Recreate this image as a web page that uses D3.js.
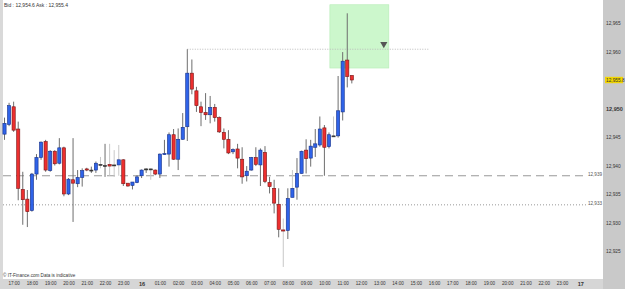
<!DOCTYPE html>
<html><head><meta charset="utf-8">
<script src="https://cdn.jsdelivr.net/npm/d3@7"></script>
<style>
html,body{margin:0;padding:0;background:#fff;}
svg{display:block;font-family:"Liberation Sans",Arial,sans-serif;}
</style></head>
<body><svg id="c" width="625" height="289"></svg>
<script>
// 15-minute candles, index 0 = 16:30
const opens  = [12945.5,12947.2,12950.3,12946.4,12935.8,12934.1,12932.1,12938.5,12941.4,12944.2,12939.1,12942.5,12940.4,12943.1,12935.0,12937.5,12936.8,12937.9,12939.4,12939.2,12939.2,12940.2,12940.0,12940.2,12940.1,12940.1,12941.0,12936.9,12936.5,12937.0,12938.2,12939.4,12939.4,12939.2,12938.5,12941.9,12942.0,12945.4,12941.1,12944.6,12946.8,12956.2,12953.1,12950.3,12949.3,12948.9,12950.2,12948.4,12945.8,12944.6,12942.4,12942.9,12941.1,12938.2,12939.2,12941.4,12940.1,12942.3,12937.0,12936.0,12933.2,12928.7,12928.6,12934.4,12936.2,12938.6,12942.7,12941.3,12943.2,12943.6,12946.6,12943.3,12945.2,12945.2,12949.4,12958.5,12955.8];
const highs  = [12948.4,12951.0,12951.2,12947.7,12938.9,12935.7,12938.7,12942.0,12944.2,12944.5,12942.7,12942.7,12944.8,12943.3,12937.8,12944.8,12939.2,12939.5,12939.6,12939.8,12940.7,12941.5,12943.8,12943.8,12942.7,12943.6,12941.1,12936.9,12937.1,12938.3,12939.3,12939.5,12939.5,12939.3,12942.1,12944.5,12945.8,12946.4,12946.5,12949.2,12960.4,12958.6,12953.8,12951.2,12952.7,12952.2,12950.8,12948.6,12946.5,12946.2,12943.0,12943.8,12943.2,12939.9,12941.5,12943.2,12943.0,12943.4,12938.0,12937.5,12936.0,12930.7,12936.0,12939.2,12941.3,12942.6,12944.6,12944.5,12946.4,12948.6,12947.1,12945.8,12948.6,12955.7,12959.9,12966.7,12955.8];
const lows   = [12944.5,12946.9,12945.9,12933.9,12929.6,12929.2,12931.9,12937.5,12941.0,12938.9,12938.9,12940.0,12940.2,12934.6,12934.8,12930.1,12936.2,12936.3,12939.0,12938.7,12938.7,12939.5,12938.0,12938.2,12938.0,12938.2,12936.4,12936.3,12935.8,12936.9,12937.8,12938.7,12937.5,12938.3,12937.8,12941.9,12939.8,12941.0,12939.2,12944.5,12944.3,12952.5,12949.4,12946.9,12948.0,12947.4,12947.7,12945.7,12943.0,12942.0,12942.0,12939.5,12936.8,12937.2,12939.1,12939.9,12936.4,12936.9,12935.1,12931.6,12927.4,12922.2,12927.1,12934.4,12934.0,12938.6,12938.6,12939.8,12941.5,12943.3,12938.2,12943.0,12945.0,12944.9,12947.9,12953.7,12954.4];
const closes = [12947.4,12950.5,12946.2,12936.0,12934.0,12931.9,12938.5,12941.4,12944.1,12939.2,12942.5,12940.3,12943.1,12935.0,12937.6,12936.9,12937.9,12939.1,12939.2,12939.2,12940.4,12940.2,12940.0,12939.9,12940.1,12941.0,12936.8,12936.4,12937.1,12938.0,12939.2,12939.4,12939.4,12938.5,12942.0,12942.1,12945.4,12941.1,12944.6,12946.7,12956.2,12953.4,12950.5,12949.3,12948.9,12950.2,12948.4,12945.9,12944.6,12942.2,12942.8,12941.3,12938.0,12939.0,12941.4,12940.2,12942.7,12937.2,12936.3,12933.4,12928.8,12928.5,12934.2,12936.0,12938.6,12942.5,12941.2,12943.4,12943.8,12946.4,12943.2,12945.4,12945.2,12949.6,12958.3,12955.6,12955.0];
const lightWicks = [21,23,24,25,32,61,63,72];
const hourLabels = ["17:00","18:00","19:00","20:00","21:00","22:00","23:00","16","01:00","02:00","03:00","04:00","05:00","06:00","07:00","08:00","09:00","10:00","11:00","12:00","13:00","14:00","15:00","16:00","17:00","18:00","19:00","20:00","21:00","22:00","23:00","17"];
const priceTicks = [12925,12930,12935,12940,12945,12950,12955,12960,12965];
const levelValues = [12938.2,12933.1];
const levelLabels = ["12,939","12,933"];
const highLine = {from:40,to:93,value:12960.4};
const zone = {from:71.2,to:84.1,top:12968.2,bottom:12957.1};
const marker = {idx:83,value:12961.3};
const bidAsk = "Bid : 12,954.6 Ask : 12,955.4";
const lastLabel = "12,955.8";

const svg = d3.select("#c");
const W=625,H=289, plotL=3, plotR=603, plotB=279;
const x = d3.scaleLinear().domain([0,130]).range([4.5, 4.5+4.57*130]);
const y = d3.scaleLinear().domain([12925,12965]).range([251,23]);

// backgrounds
svg.append("rect").attr("x",0).attr("y",0).attr("width",W).attr("height",H).attr("fill","#fff");
svg.append("rect").attr("x",0).attr("y",0).attr("width",plotL).attr("height",plotB).attr("fill","#d9d9d9");
svg.append("rect").attr("x",plotR).attr("y",0).attr("width",W-plotR).attr("height",H).attr("fill","#c9c9c9");
svg.append("rect").attr("x",0).attr("y",plotB).attr("width",plotR).attr("height",H-plotB).attr("fill","#d6d6d6");

// green zone
svg.append("rect").attr("x",x(zone.from)).attr("y",y(zone.top))
  .attr("width",x(zone.to)-x(zone.from)).attr("height",y(zone.bottom)-y(zone.top))
  .attr("fill","#ccf7cc").attr("stroke","#b5ecb5").attr("stroke-width",0.6);

// levels
svg.append("line").attr("x1",plotL).attr("x2",plotR-16).attr("y1",y(levelValues[0])).attr("y2",y(levelValues[0]))
  .attr("stroke","#999").attr("stroke-width",1).attr("stroke-dasharray","8,5");
svg.append("line").attr("x1",plotL).attr("x2",plotR-16).attr("y1",y(levelValues[1])).attr("y2",y(levelValues[1]))
  .attr("stroke","#999").attr("stroke-width",1).attr("stroke-dasharray","1,2");
levelLabels.forEach((t,k)=>{
  svg.append("text").attr("x",plotR-1).attr("y",y(levelValues[k])).attr("dy","0.1em")
    .attr("text-anchor","end").attr("font-size",4.6).attr("fill","#555").text(t);
});
// high dotted line
svg.append("line").attr("x1",x(highLine.from)).attr("x2",x(highLine.to))
  .attr("y1",y(highLine.value)).attr("y2",y(highLine.value))
  .attr("stroke","#bbb").attr("stroke-width",1).attr("stroke-dasharray","1,1.5");

// candles
const data = opens.map((o,i)=>({i,o,h:highs[i],l:lows[i],c:closes[i]}));
const g = svg.append("g");
g.selectAll("line.w").data(data).join("line").attr("class","w")
  .attr("x1",d=>x(d.i)).attr("x2",d=>x(d.i))
  .attr("y1",d=>y(d.h)).attr("y2",d=>y(d.l))
  .attr("stroke",d=>lightWicks.includes(d.i)?"#c8c8c8":"#6e6e6e").attr("stroke-width",1);
g.selectAll("rect.b").data(data).join("rect").attr("class","b")
  .attr("x",d=>x(d.i)-1.6).attr("width",3.2)
  .attr("y",d=>y(Math.max(d.o,d.c)))
  .attr("height",d=>Math.max(1,Math.abs(y(d.o)-y(d.c))))
  .attr("fill",d=>d.c>d.o?"#2f63e8":(d.c<d.o?"#ec2f2f":"#333"))
  .attr("stroke",d=>d.c>d.o?"#16318a":(d.c<d.o?"#7a1616":"#333"))
  .attr("stroke-width",0.6);

// marker triangle
svg.append("path").attr("d",d3.symbol(d3.symbolTriangle,22)())
  .attr("transform",`translate(${x(marker.idx)},${y(marker.value)}) rotate(180)`)
  .attr("fill","#555");

// y axis
const ya = svg.append("g").attr("transform",`translate(${plotR+2},0)`)
  .call(d3.axisRight(y).tickValues(priceTicks).tickSize(0).tickPadding(1).tickFormat(d3.format(",")));
ya.select(".domain").remove();
ya.selectAll("text").attr("font-size",4.8).attr("fill","#333")
  .attr("font-weight",d=>d===12950?"bold":"normal")
  .attr("font-size",d=>d===12950?5.5:4.8)
  .style("display",d=>d===12955?"none":null);
// last price label
const lp = svg.append("g").attr("transform",`translate(${plotR+2},${y(closes[closes.length-1])})`);
lp.append("rect").attr("x",0).attr("y",-3.2).attr("width",18).attr("height",6.4).attr("fill","#f2d600");
lp.append("text").attr("x",1).attr("y",0).attr("dy","0.35em").attr("font-size",4.8).attr("fill","#333").text(lastLabel);

// x axis
const hourIdx = hourLabels.map((_,k)=>2+4*k);
const xa = svg.append("g").attr("transform",`translate(0,${plotB})`)
  .call(d3.axisBottom(x).tickValues(hourIdx).tickSize(0).tickPadding(3).tickFormat((d,k)=>hourLabels[k]));
xa.select(".domain").remove();
xa.selectAll("text").attr("fill","#333")
  .attr("font-size",(d,k)=>hourLabels[k].length<3?5.6:4.6)
  .attr("font-weight",(d,k)=>hourLabels[k].length<3?"bold":"normal");

// header/footer
svg.append("text").attr("x",4).attr("y",7).attr("font-size",5).attr("fill","#333").text(bidAsk);
svg.append("text").attr("x",3).attr("y",277).attr("font-size",4.6).attr("fill","#333").text("\u00A9 IT-Finance.com  Data is indicative");
</script></body></html>
